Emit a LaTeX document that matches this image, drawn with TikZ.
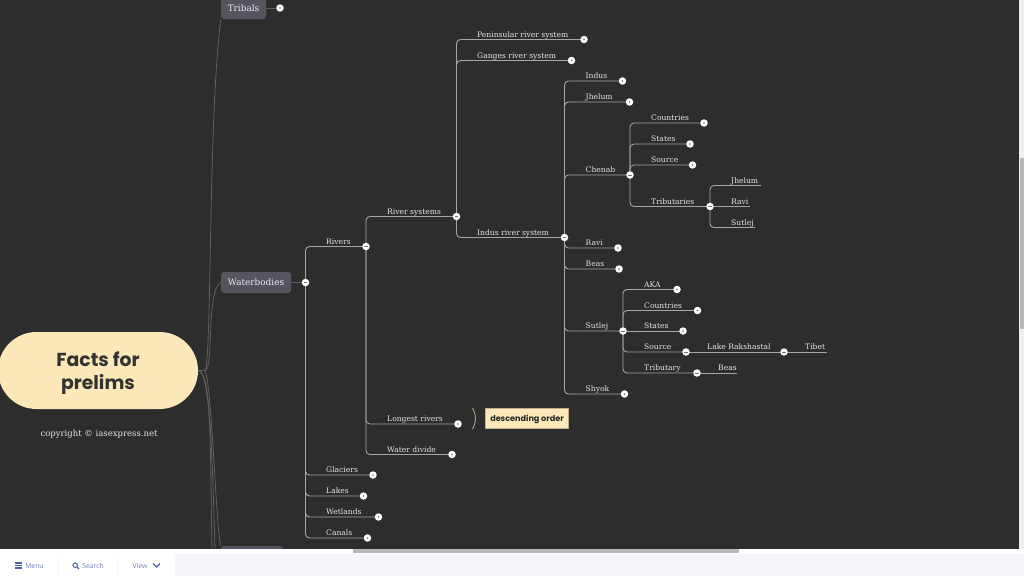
\documentclass[tikz,border=0pt]{standalone}
\usepackage{fontspec}
\setmainfont{DejaVu Serif}
\newfontfamily\titlefont{Poppins}
\newfontfamily\uifont{Open Sans}
\usetikzlibrary{backgrounds}
\definecolor{canvas}{HTML}{2D2D2D}
\definecolor{cream}{HTML}{FCE8B9}
\definecolor{slatebox}{HTML}{55555F}
\definecolor{barblue}{HTML}{4F5FA8}
\definecolor{bartext}{HTML}{7480B5}
\definecolor{barpale}{HTML}{F5F6FB}
\begin{document}
\begin{tikzpicture}[
  x=1pt, y=-1pt,
  lbl/.style={anchor=base west, inner sep=0pt, yshift=-.8pt, text=white!90!black, font=\fontsize{7.6}{9}\selectfont},
  topicbox/.style={rectangle, rounded corners=3pt, fill=slatebox, text=white!92!black, minimum height=21pt, inner sep=0pt, text height=6.5pt, text depth=0pt, font=\fontsize{8.9}{10}\selectfont},
  branch/.style={draw=white!65!black, line width=.9pt, rounded corners=4pt},
  rootline/.style={draw=white!25!canvas, line width=.8pt},
  tglopen/.style={circle, fill=white, minimum size=7.5pt, inner sep=0pt, path picture={\draw[black!55, line width=.7pt] (-1.8,0) -- (1.8,0);}},
  tglshut/.style={circle, fill=white, minimum size=7.5pt, inner sep=0pt, path picture={\fill[black!55] (0,0) circle (.8pt);}},
  uilabel/.style={inner sep=0pt, text=bartext, font=\uifont\fontsize{6.8}{8}\selectfont}
]
\useasboundingbox (0,0) rectangle (1024,576);

% Central topic and copyright
\node[rectangle, rounded corners=38.5pt, fill=cream, minimum width=200pt, minimum height=77pt, inner sep=0pt] (root) at (98,370.5) {};
\node[text=black!80, align=center, inner sep=0pt, font=\titlefont\bfseries\fontsize{18.8}{23}\selectfont] (roottitle) at (98,373.5) {Facts for\\prelims};
\node[inner sep=0pt, text=white!90!black, font=\fontsize{8.5}{10}\selectfont] (copyright) at (99,434) {copyright © iasexpress.net};

% Main topics
\node[topicbox, minimum width=45pt] (tribals) at (243.5,8.5) {Tribals};
\node[topicbox, minimum width=70pt] (waterbodies) at (256,282.5) {Waterbodies};
\node[topicbox, minimum width=62pt] (hiddenbox) at (252,556.5) {};
\coordinate (offa) at (212,549);
\coordinate (offb) at (215,549);
\coordinate (hub) at (205,370.5);

% Toggles
\node[tglshut] (tribalstgl) at (280,8) {};
\node[tglopen] (waterbodiestgl) at (305.5,282.5) {};
\node[tglopen] (rivers) at (366,246.5) {};
\node[tglshut] (glaciers) at (373,475) {};
\node[tglshut] (lakes) at (363.5,496) {};
\node[tglshut] (wetlands) at (378.5,517) {};
\node[tglshut] (canals) at (367.5,538) {};
\node[tglopen] (riversystems) at (456.5,216.5) {};
\node[tglshut] (longest) at (458,424) {};
\node[tglshut] (divide) at (452,454.5) {};
\node[tglshut] (peninsular) at (584,39.5) {};
\node[tglshut] (ganges) at (571.5,60.5) {};
\node[tglopen] (indussys) at (564.5,237.5) {};
\node[tglshut] (indus) at (622.5,81) {};
\node[tglshut] (jhelum) at (629.5,102) {};
\node[tglopen] (chenab) at (630,175) {};
\node[tglshut] (ravi) at (618,248) {};
\node[tglshut] (beas) at (619,269) {};
\node[tglopen] (sutlej) at (623,331) {};
\node[tglshut] (shyok) at (624.5,394) {};
\node[tglshut] (chcountries) at (704,123) {};
\node[tglshut] (chstates) at (690,144) {};
\node[tglshut] (chsource) at (692.5,165) {};
\node[tglopen] (chtribs) at (710,206.5) {};
\node[tglshut] (suaka) at (677,289.5) {};
\node[tglshut] (sucountries) at (697.5,310.5) {};
\node[tglshut] (sustates) at (683,331) {};
\node[tglopen] (susource) at (686,352) {};
\node[tglopen] (sutrib) at (697,373) {};
\node[tglopen] (lake) at (784,352) {};

% Free ends of the leaves
\coordinate (trjhelum) at (761,185.5);
\coordinate (trravi) at (750,206.5);
\coordinate (trsutlej) at (755,227.5);
\coordinate (tibet) at (827,352);
\coordinate (sbeas) at (737,373);

% Labels
\node[lbl] (lrivers) at (326,243.5) {Rivers};
\node[lbl] (lglaciers) at (326,472) {Glaciers};
\node[lbl] (llakes) at (326,493) {Lakes};
\node[lbl] (lwetlands) at (326,514) {Wetlands};
\node[lbl] (lcanals) at (326,535) {Canals};
\node[lbl] (lriversystems) at (387,213.5) {River systems};
\node[lbl] (llongest) at (387,421) {Longest rivers};
\node[lbl] (ldivide) at (387,451.5) {Water divide};
\node[lbl] (lpeninsular) at (477,36.5) {Peninsular river system};
\node[lbl] (lganges) at (477,57.5) {Ganges river system};
\node[lbl] (lindussys) at (477,234.5) {Indus river system};
\node[lbl] (lindus) at (585.5,78) {Indus};
\node[lbl] (ljhelum) at (585.5,99) {Jhelum};
\node[lbl] (lchenab) at (585.5,172) {Chenab};
\node[lbl] (lravi) at (585.5,245) {Ravi};
\node[lbl] (lbeas) at (585.5,266) {Beas};
\node[lbl] (lsutlej) at (585.5,328) {Sutlej};
\node[lbl] (lshyok) at (585.5,391) {Shyok};
\node[lbl] (lchcountries) at (651,120) {Countries};
\node[lbl] (lchstates) at (651,141) {States};
\node[lbl] (lchsource) at (651,162) {Source};
\node[lbl] (lchtribs) at (651,203.5) {Tributaries};
\node[lbl] (ltrjhelum) at (731,182.5) {Jhelum};
\node[lbl] (ltrravi) at (731,203.5) {Ravi};
\node[lbl] (ltrsutlej) at (731,224.5) {Sutlej};
\node[lbl] (lsuaka) at (644,286.5) {AKA};
\node[lbl] (lsucountries) at (644,307.5) {Countries};
\node[lbl] (lsustates) at (644,328) {States};
\node[lbl] (lsusource) at (644,349) {Source};
\node[lbl] (lsutrib) at (644,370) {Tributary};
\node[lbl] (llake) at (707,349) {Lake Rakshastal};
\node[lbl] (ltibet) at (805,349) {Tibet};
\node[lbl] (lsbeas) at (718,370) {Beas};

% Note on the longest rivers
\node[rectangle, draw=cream!75!black, fill=cream, text=black!85, minimum width=83pt, minimum height=20pt, inner sep=0pt, text height=6pt, text depth=0pt, font=\titlefont\bfseries\fontsize{8.1}{9}\selectfont] (note) at (527,418) {descending order};
\coordinate (notetop) at (472.5,408);
\coordinate (notebot) at (472.5,429);

\begin{pgfonlayer}{background}
\fill[canvas] (0,0) rectangle (1024,576);

% Root lines
\draw[rootline] (root.east) -- (hub) .. controls (214,370) and (206,290) .. (waterbodies.west);
\draw[rootline] (hub) .. controls (212,360) and (208,120) .. (tribals.south west);
\draw[rootline] (root.east) .. controls (212,372) and (210,450) .. (offa);
\draw[rootline] (root.east) .. controls (210,372) and (212,450) .. (offb);
\draw[rootline] (hub) .. controls (212,385) and (216,530) .. (hiddenbox.north west);

% Topic stubs
\draw[rootline] (tribals.east |- tribalstgl) -- (tribalstgl.center);
\draw[rootline] (waterbodies.east) -- (waterbodiestgl.center);

% Waterbodies
\draw[branch] (waterbodiestgl.center) |- (rivers.center);
\draw[branch] (waterbodiestgl.center) |- (glaciers.center);
\draw[branch] (waterbodiestgl.center) |- (lakes.center);
\draw[branch] (waterbodiestgl.center) |- (wetlands.center);
\draw[branch] (waterbodiestgl.center) |- (canals.center);

% Rivers
\draw[branch] (rivers.center) |- (riversystems.center);
\draw[branch] (rivers.center) |- (longest.center);
\draw[branch] (rivers.center) |- (divide.center);

% River systems
\draw[branch] (riversystems.center) |- (peninsular.center);
\draw[branch] (riversystems.center) |- (ganges.center);
\draw[branch] (riversystems.center) |- (indussys.center);

% Indus river system
\draw[branch] (indussys.center) |- (indus.center);
\draw[branch] (indussys.center) |- (jhelum.center);
\draw[branch] (indussys.center) |- (chenab.center);
\draw[branch] (indussys.center) |- (ravi.center);
\draw[branch] (indussys.center) |- (beas.center);
\draw[branch] (indussys.center) |- (sutlej.center);
\draw[branch] (indussys.center) |- (shyok.center);

% Chenab
\draw[branch] (chenab.center) |- (chcountries.center);
\draw[branch] (chenab.center) |- (chstates.center);
\draw[branch] (chenab.center) |- (chsource.center);
\draw[branch] (chenab.center) |- (chtribs.center);
\draw[branch] (chtribs.center) |- (trjhelum);
\draw[branch] (chtribs.center) -- (trravi);
\draw[branch] (chtribs.center) |- (trsutlej);

% Sutlej
\draw[branch] (sutlej.center) |- (suaka.center);
\draw[branch] (sutlej.center) |- (sucountries.center);
\draw[branch] (sutlej.center) -- (sustates.center);
\draw[branch] (sutlej.center) |- (susource.center);
\draw[branch] (sutlej.center) |- (sutrib.center);
\draw[branch] (susource.center) -- (lake.center);
\draw[branch] (lake.center) -- (tibet);
\draw[branch] (sutrib.center) -- (sbeas);

% Bracket
\draw[draw=cream!70!black, line width=.9pt] (notetop) .. controls (476.5,414) and (476.5,423) .. (notebot);
\end{pgfonlayer}

% Bottom bar and scrollbars
\fill[barpale] (0,548.5) rectangle (1024,576);
\fill[white] (0,548.5) rectangle (175,576);
\fill[white] (175,548.5) rectangle (1024,554);
\draw[barpale] (58.5,555) -- (58.5,576);
\draw[barpale] (117.5,555) -- (117.5,576);
\fill[white!72!black] (353,549) rectangle (739,553);
\fill[white!94!black] (1018.5,0) rectangle (1024,549);
\fill[white!72!black] (1020,158) rectangle (1023.5,329);

% Menu, search and view
\draw[barblue, line width=1.1pt] (15,563) -- (22,563);
\draw[barblue, line width=1.1pt] (15,565.5) -- (22,565.5);
\draw[barblue, line width=1.1pt] (15,568) -- (22,568);
\node[uilabel] (menu) at (34.5,566) {Menu};
\draw[barblue, line width=1pt] (75.2,565.2) circle (2.2pt);
\draw[barblue, line width=1.1pt] (77,567) -- (79,569);
\node[uilabel] (search) at (93,566) {Search};
\node[uilabel] (view) at (140,566) {View};
\draw[barblue, line width=1.2pt] (153,563.5) -- (156.5,567) -- (160,563.5);
\end{tikzpicture}
\end{document}
